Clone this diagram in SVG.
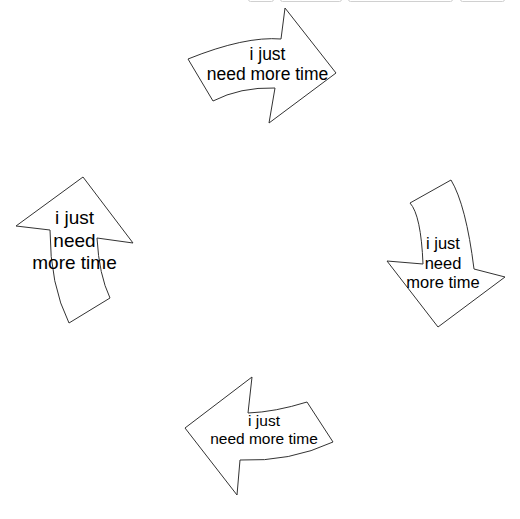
<svg xmlns="http://www.w3.org/2000/svg" width="520" height="519" viewBox="0 0 520 519">
<style>
.arrow{fill:#fff;stroke:#333;stroke-width:1;stroke-linejoin:miter}
.lbl{font-family:"Liberation Sans",Arial,sans-serif;fill:#000;text-anchor:middle}
.tb{fill:#fff;stroke:#d0d0d0;stroke-width:1}
</style>
<rect width="520" height="519" fill="#fff"/>
<g id="toolbar">
<rect class="tb" x="248.5" y="-6" width="25" height="7.5" rx="2"/>
<rect class="tb" x="280.5" y="-6" width="61" height="7.5" rx="2"/>
<rect class="tb" x="348.5" y="-6" width="104" height="7.5" rx="2"/>
<rect class="tb" x="460.5" y="-6" width="44" height="7.5" rx="2"/>
</g>
<g id="connectors"/>
<g id="arrow-top">
<path class="arrow" d="M188,59 Q245,36 281,39 L285,8 L336,73 L269,123 L275,88 Q240,87 213,101 Z"/>
<text class="lbl" font-size="17.5" x="267.5" y="60">i just</text>
<text class="lbl" font-size="17.5" x="267.5" y="80">need more time</text>
</g>
<g id="arrow-right">
<path class="arrow" d="M410,203 L451,180 Q466,205 474,269 L505,277 L438,327 L387,261 L423,264 Q421,215 410,203 Z"/>
<text class="lbl" font-size="16.5" x="443" y="249">i just</text>
<text class="lbl" font-size="16.5" x="443" y="269">need</text>
<text class="lbl" font-size="16.5" x="443" y="288">more time</text>
</g>
<g id="arrow-bottom">
<path class="arrow" d="M185,428 L252,377 L248,413 Q275,412 307,402 L333,442 Q290,462 240,460 L237,495 Z"/>
<text class="lbl" font-size="15.5" x="264" y="426">i just</text>
<text class="lbl" font-size="15.5" x="264" y="444">need more time</text>
</g>
<g id="arrow-left">
<path class="arrow" d="M83,177 L133,243 L97,238 Q99,275 110,298 L69,323 Q50,285 50,230 L16,226 Z"/>
<text class="lbl" font-size="19" x="74.5" y="224">i just</text>
<text class="lbl" font-size="19" x="74.5" y="247">need</text>
<text class="lbl" font-size="19" x="74.5" y="269">more time</text>
</g>
</svg>
